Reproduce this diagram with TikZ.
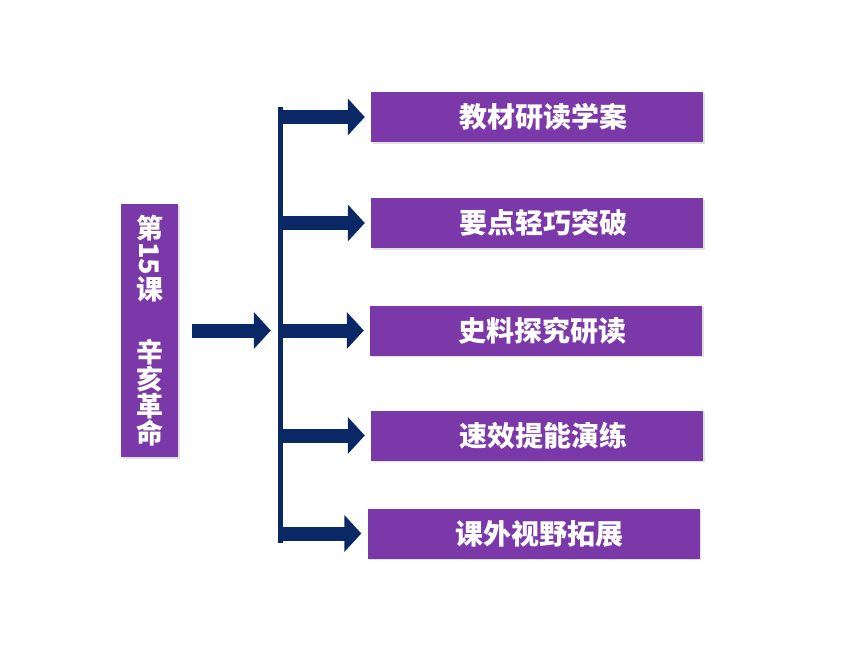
\documentclass[tikz,border=0pt]{standalone}
\usepackage{fontspec}
\newfontfamily\cjk{Noto Sans CJK SC}
\usepackage{graphicx}
\usepackage{xcolor}
\usepackage{tikz}
\usetikzlibrary{arrows.meta, positioning, shadows}
\definecolor{boxpurple}{RGB}{123,56,168}
\definecolor{barnavy}{RGB}{10,40,102}

\begin{document}
\begin{tikzpicture}[x=1pt, y=-1pt,
    topic/.style={fill=boxpurple, text=white, inner sep=0pt,
      font=\cjk\bfseries\fontsize{28}{30}\selectfont,
      minimum width=332pt, minimum height=50pt,
      drop shadow={shadow xshift=1.5pt, shadow yshift=-1.5pt, opacity=0.25}},
    blockarrow/.style={barnavy, line width=14pt, -{Triangle[length=17pt, width=36pt]}}]
    \useasboundingbox (0,0) rectangle (860,645);
    \node[topic, minimum width=57pt, minimum height=253pt, align=center,
      font=\cjk\bfseries\fontsize{27}{27}\selectfont] (title) at (149.5,330.5)
      {第\\\rotatebox[origin=c]{-90}{15}\\课\\[36pt]辛\\亥\\革\\命};
    \node[fill=barnavy, minimum width=5pt, minimum height=436pt, inner sep=0pt] (bar) at (280.5,325) {};
    \node[topic] (b1) at (537,117) {\hspace*{12pt}教材研读学案};
    \node[topic] (b2) at (537,223) {\hspace*{12pt}要点轻巧突破};
    \node[topic] (b3) at (536,330.5) {\hspace*{12pt}史料探究研读};
    \node[topic] (b4) at (537,435.5) {\hspace*{12pt}速效提能演练};
    \node[topic] (b5) at (533.5,533.5) {\hspace*{12pt}课外视野拓展};
    \draw[blockarrow, shorten <=14pt, shorten >=7pt] (title.east) -- (bar.west |- title.east);
    \foreach \b in {b1,b2,b3,b4,b5}
      \draw[blockarrow, shorten >=6pt] (bar.east |- \b.west) -- (\b.west);
  \end{tikzpicture}
\end{document}
